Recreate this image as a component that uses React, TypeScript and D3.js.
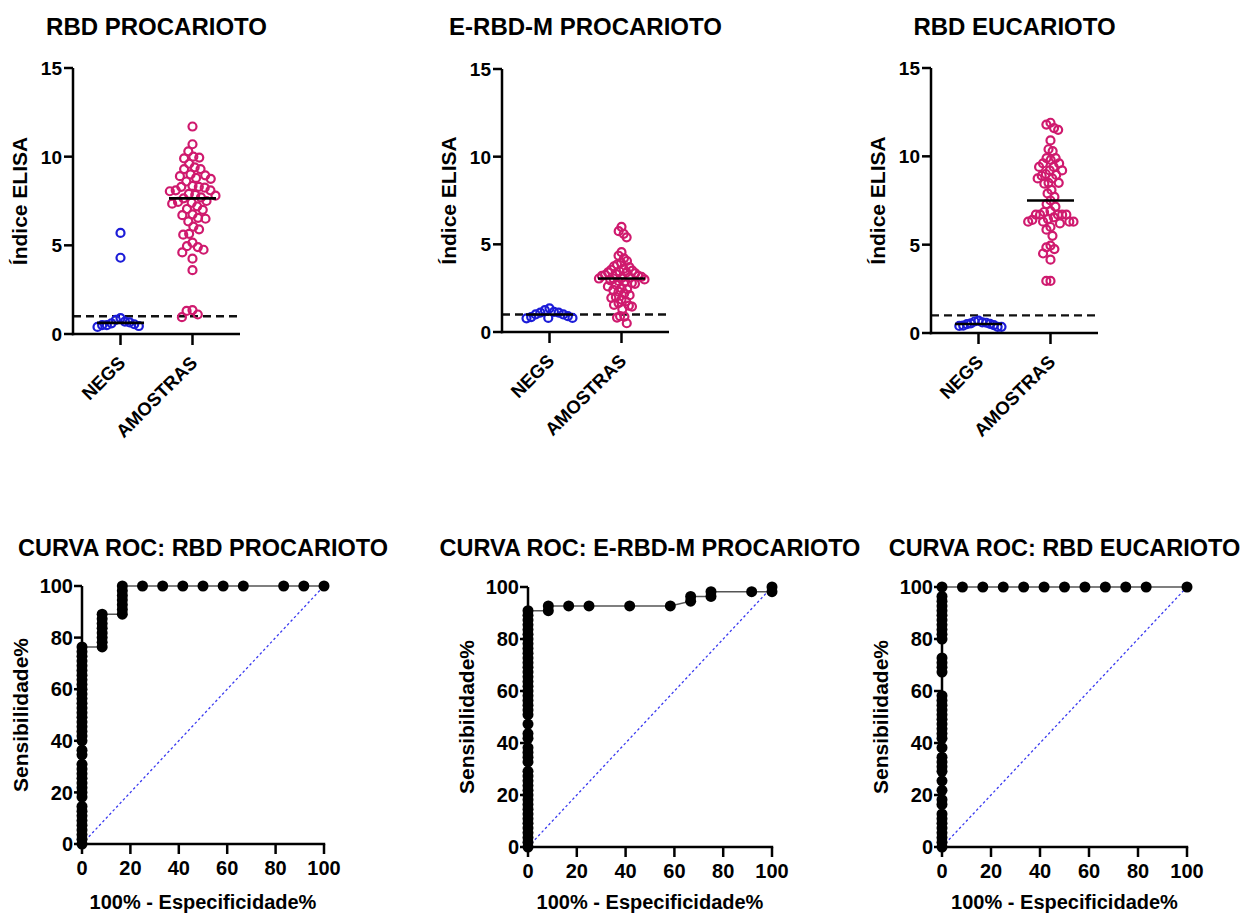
import React from "react";
import * as d3 from "d3";

// ---- labels ----
const groups = ["NEGS", "AMOSTRAS"];
const elisaTicks = [0, 5, 10, 15];
const rocTicks = [0, 20, 40, 60, 80, 100];
const cutoffIndex = 1;

const panelTitles = ["RBD PROCARIOTO", "E-RBD-M PROCARIOTO", "RBD EUCARIOTO"];
const rocTitles = [
  "CURVA ROC: RBD PROCARIOTO",
  "CURVA ROC: E-RBD-M PROCARIOTO",
  "CURVA ROC: RBD EUCARIOTO",
];

// ---- ELISA index values per antigen ----
const rbdProcNegs = [5.7, 4.3, 0.9, 0.8, 0.7, 0.65, 0.6, 0.55, 0.5, 0.5, 0.45, 0.4];
const rbdProcAmostras = [
  11.7, 10.7, 10.3, 10.0, 9.95, 9.9, 9.6, 9.4, 9.3, 9.3, 9.0, 8.95, 8.9, 8.8, 8.75,
  8.6, 8.35, 8.3, 8.3, 8.25, 8.1, 8.1, 8.05, 7.9, 7.85, 7.8, 7.7, 7.65, 7.5, 7.45,
  7.4, 7.35, 7.2, 7.05, 7.0, 6.75, 6.7, 6.55, 6.5, 6.35, 6.05, 5.9, 5.65, 5.6, 5.15,
  4.95, 4.9, 4.75, 4.6, 4.25, 3.6, 1.35, 1.3, 1.1, 0.95,
];

const erbdNegs = [1.35, 1.25, 1.15, 1.1, 1.1, 1.0, 1.0, 0.9, 0.85, 0.8, 0.8, 0.78];
const erbdAmostras = [
  6.0, 5.75, 5.6, 5.4, 4.55, 4.35, 4.2, 4.05, 3.95, 3.85, 3.75, 3.7, 3.6, 3.55, 3.5,
  3.45, 3.4, 3.4, 3.35, 3.3, 3.25, 3.2, 3.2, 3.15, 3.1, 3.1, 3.05, 3.05, 3.0, 2.95,
  2.9, 2.85, 2.8, 2.75, 2.7, 2.6, 2.5, 2.45, 2.4, 2.3, 2.2, 2.1, 2.0, 1.95, 1.85,
  1.75, 1.65, 1.55, 1.5, 1.45, 1.3, 0.9, 0.88, 0.82, 0.5,
];

const rbdEucNegs = [0.7, 0.65, 0.6, 0.58, 0.55, 0.52, 0.5, 0.45, 0.42, 0.4, 0.35, 0.35];
const rbdEucAmostras = [
  11.9, 11.8, 11.6, 11.5, 10.9, 10.4, 10.3, 9.9, 9.9, 9.8, 9.6, 9.6, 9.4, 9.4, 9.2,
  9.2, 9.0, 8.95, 8.9, 8.75, 8.75, 8.5, 8.5, 8.45, 8.1, 7.9, 7.7, 7.5, 7.3, 7.15,
  6.9, 6.85, 6.7, 6.7, 6.7, 6.7, 6.7, 6.55, 6.45, 6.4, 6.3, 6.3, 6.3, 6.3, 6.2,
  6.0, 5.85, 5.5, 4.95, 4.85, 4.75, 4.5, 4.15, 2.95, 2.95,
];

const negSeries = [rbdProcNegs, erbdNegs, rbdEucNegs];
const amostraSeries = [rbdProcAmostras, erbdAmostras, rbdEucAmostras];

// ---- layout ----
const FONT = "'Liberation Sans', Arial, Helvetica, sans-serif";
const scatterFrames = [
  { left: 73, width: 167, top: 68, bottom: 334 },
  { left: 502, width: 167, top: 69, bottom: 332 },
  { left: 931, width: 167, top: 68, bottom: 333 },
];
const rocFrames = [
  { left: 82, right: 324, top: 586, bottom: 844 },
  { left: 528, right: 772, top: 587, bottom: 847 },
  { left: 942, right: 1187, top: 587, bottom: 847 },
];
const groupColors = ["#1c1cd8", "#cf1a6e"];
const SWARM_HALF = 23;

// Beeswarm placement: each circle is pushed sideways just enough to avoid overlap,
// then the whole group is squeezed into a fixed column width.
function swarm(ys: number[], d: number, maxHalf: number): number[] {
  const order = ys.map((_, i) => i).sort((a, b) => ys[a] - ys[b]);
  const placed: { x: number; y: number }[] = [];
  const out: number[] = new Array(ys.length).fill(0);
  for (const i of order) {
    const y = ys[i];
    const near = placed.filter((p) => Math.abs(p.y - y) < d);
    const cands = [0];
    near.forEach((p) => {
      const w = Math.sqrt(d * d - (p.y - y) ** 2);
      cands.push(p.x + w + 0.01, p.x - w - 0.01);
    });
    cands.sort((a, b) => Math.abs(a) - Math.abs(b) || a - b);
    let x = 0;
    for (const c of cands) {
      if (near.every((p) => (p.x - c) ** 2 + (p.y - y) ** 2 >= d * d - 0.01)) {
        x = c;
        break;
      }
    }
    placed.push({ x, y });
    out[i] = x;
  }
  const widest = d3.max(out, (v) => Math.abs(v)) || 0;
  const k = widest > maxHalf ? maxHalf / widest : 1;
  return out.map((v) => v * k);
}

// ROC points from every cutoff between sorted unique values.
function rocPoints(negs: number[], pos: number[]) {
  const vals = Array.from(new Set([...negs, ...pos])).sort((a, b) => b - a);
  const cuts = [vals[0] + 1];
  for (let i = 0; i < vals.length - 1; i++) cuts.push((vals[i] + vals[i + 1]) / 2);
  cuts.push(vals[vals.length - 1] - 1);
  const pts: { fpr: number; sens: number }[] = [];
  cuts.forEach((c) => {
    const p = {
      fpr: (100 * negs.filter((v) => v > c).length) / negs.length,
      sens: (100 * pos.filter((v) => v > c).length) / pos.length,
    };
    const last = pts[pts.length - 1];
    if (!last || last.fpr !== p.fpr || last.sens !== p.sens) pts.push(p);
  });
  return pts;
}

function ScatterPanel({ idx }: { idx: number }) {
  const f = scatterFrames[idx];
  const y = d3.scaleLinear().domain([0, 15]).range([f.bottom, f.top]);
  const x = d3
    .scalePoint<string>()
    .domain(groups)
    .range([f.left, f.left + f.width])
    .padding(0.66);
  const data = [negSeries[idx], amostraSeries[idx]];
  const r = 4;
  const right = f.left + f.width;
  return (
    <g>
      <text
        x={(f.left + right) / 2}
        y={35}
        textAnchor="middle"
        fontSize={24}
        fontWeight="bold"
        fontFamily={FONT}
      >
        {panelTitles[idx]}
      </text>
      {/* cutoff line */}
      <line
        x1={f.left}
        x2={right}
        y1={y(cutoffIndex)}
        y2={y(cutoffIndex)}
        stroke="#111"
        strokeWidth={2.4}
        strokeDasharray="8,5"
      />
      {data.map((vals, gi) => {
        const ys = vals.map((v) => y(v));
        const xs = swarm(ys, 2 * r + 2, SWARM_HALF);
        const cx = x(groups[gi])!;
        const med = d3.median(vals)!;
        return (
          <g key={gi}>
            {vals.map((v, i) => (
              <circle
                key={i}
                cx={cx + xs[i]}
                cy={ys[i]}
                r={r}
                fill="none"
                stroke={groupColors[gi]}
                strokeWidth={2.2}
              />
            ))}
            <line
              x1={cx - 23.5}
              x2={cx + 23.5}
              y1={y(med)}
              y2={y(med)}
              stroke="#000"
              strokeWidth={2.6}
            />
          </g>
        );
      })}
      {/* axes */}
      <line x1={f.left} x2={f.left} y1={f.bottom + 1.2} y2={f.top} stroke="#000" strokeWidth={2.5} />
      <line x1={f.left - 1.2} x2={right} y1={f.bottom} y2={f.bottom} stroke="#000" strokeWidth={2.5} />
      {elisaTicks.map((t) => (
        <g key={t}>
          <line x1={f.left - 9} x2={f.left} y1={y(t)} y2={y(t)} stroke="#000" strokeWidth={2.5} />
          <text
            x={f.left - 11}
            y={y(t)}
            dy="0.36em"
            textAnchor="end"
            fontSize={19}
            fontWeight="bold"
            fontFamily={FONT}
          >
            {t}
          </text>
        </g>
      ))}
      {groups.map((g) => (
        <g key={g}>
          <line x1={x(g)} x2={x(g)} y1={f.bottom} y2={f.bottom + 11} stroke="#000" strokeWidth={2.5} />
          <text
            transform={`translate(${x(g)! + 6},${f.bottom + 30}) rotate(-45)`}
            textAnchor="end"
            fontSize={18.5}
            fontWeight="bold"
            fontFamily={FONT}
          >
            {g}
          </text>
        </g>
      ))}
      <text
        transform={`translate(${f.left - 54},${(f.top + f.bottom) / 2}) rotate(-90)`}
        dy="0.36em"
        textAnchor="middle"
        fontSize={21}
        fontWeight="bold"
        fontFamily={FONT}
      >
        Índice ELISA
      </text>
    </g>
  );
}

function RocPanel({ idx }: { idx: number }) {
  const f = rocFrames[idx];
  const x = d3.scaleLinear().domain([0, 100]).range([f.left, f.right]);
  const y = d3.scaleLinear().domain([0, 100]).range([f.bottom, f.top]);
  const pts = rocPoints(negSeries[idx], amostraSeries[idx]);
  const line = d3
    .line<{ fpr: number; sens: number }>()
    .x((d) => x(d.fpr))
    .y((d) => y(d.sens));
  return (
    <g>
      <text
        x={(f.left + f.right) / 2}
        y={556}
        textAnchor="middle"
        fontSize={23.5}
        fontWeight="bold"
        fontFamily={FONT}
      >
        {rocTitles[idx]}
      </text>
      <line
        x1={x(0)}
        y1={y(0)}
        x2={x(100)}
        y2={y(100)}
        stroke="#3a3af0"
        strokeWidth={1.3}
        strokeDasharray="2.5,2.5"
      />
      <path d={line(pts)!} fill="none" stroke="#555" strokeWidth={1.5} />
      <line x1={f.left} x2={f.left} y1={f.bottom + 1.2} y2={f.top} stroke="#000" strokeWidth={2.5} />
      <line x1={f.left - 1.2} x2={f.right + 1.2} y1={f.bottom} y2={f.bottom} stroke="#000" strokeWidth={2.5} />
      {pts.map((p, i) => (
        <circle key={i} cx={x(p.fpr)} cy={y(p.sens)} r={5.5} fill="#000" />
      ))}
      {rocTicks.map((t) => (
        <g key={t}>
          <line x1={f.left - 8} x2={f.left} y1={y(t)} y2={y(t)} stroke="#000" strokeWidth={2.5} />
          <text
            x={f.left - 9}
            y={y(t)}
            dy="0.36em"
            textAnchor="end"
            fontSize={20}
            fontWeight="bold"
            fontFamily={FONT}
          >
            {t}
          </text>
          <line x1={x(t)} x2={x(t)} y1={f.bottom} y2={f.bottom + 10} stroke="#000" strokeWidth={2.5} />
          <text
            x={x(t)}
            y={f.bottom + 31}
            textAnchor="middle"
            fontSize={20}
            fontWeight="bold"
            fontFamily={FONT}
          >
            {t}
          </text>
        </g>
      ))}
      <text
        transform={`translate(${f.left - 62},${(f.top + f.bottom) / 2}) rotate(-90)`}
        dy="0.36em"
        textAnchor="middle"
        fontSize={21}
        fontWeight="bold"
        fontFamily={FONT}
      >
        Sensibilidade%
      </text>
      <text
        x={(f.left + f.right) / 2}
        y={Math.min(f.bottom + 66, 909)}
        textAnchor="middle"
        fontSize={20}
        fontWeight="bold"
        fontFamily={FONT}
      >
        100% - Especificidade%
      </text>
    </g>
  );
}

export default function App() {
  return (
    <svg
      width={1242}
      height={915}
      viewBox="0 0 1242 915"
      style={{ position: "absolute", left: 0, top: 0, background: "#fff" }}
    >
      <rect width={1242} height={915} fill="#fff" />
      {[0, 1, 2].map((i) => (
        <ScatterPanel key={`s${i}`} idx={i} />
      ))}
      {[0, 1, 2].map((i) => (
        <RocPanel key={`r${i}`} idx={i} />
      ))}
    </svg>
  );
}
